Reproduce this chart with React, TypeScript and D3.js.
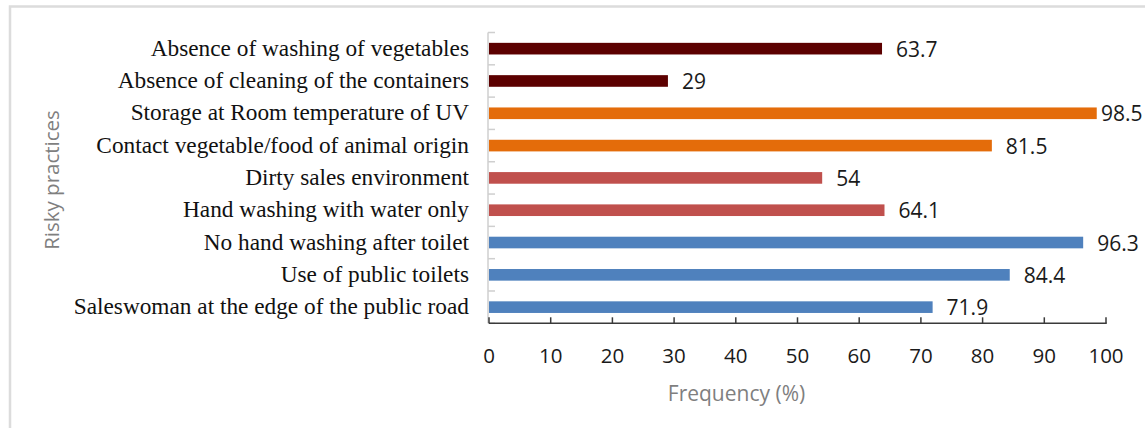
import React from "react";
import * as d3 from "d3";

const categories = [
  "Absence of washing of vegetables",
  "Absence of cleaning of the containers",
  "Storage at Room temperature of UV",
  "Contact vegetable/food of animal origin",
  "Dirty sales environment",
  "Hand washing with water only",
  "No hand washing after toilet",
  "Use of public toilets",
  "Saleswoman at the edge of the public road",
];
const values = [63.7, 29, 98.5, 81.5, 54, 64.1, 96.3, 84.4, 71.9];
const groups = ["veg", "veg", "storage", "storage", "env", "env", "hyg", "hyg", "hyg"];
const groupNames = ["veg", "storage", "env", "hyg"];
const groupColors = ["#5c0000", "#e46c0a", "#c0504d", "#4f81bd"];
const xTicks = [0, 10, 20, 30, 40, 50, 60, 70, 80, 90, 100];
const xTitle = "Frequency (%)";
const yTitle = "Risky practices";

const W = 1145;
const H = 428;
const plot = { left: 489, right: 1106, top: 32.5, bottom: 323.3 };

export default function App() {
  const x = d3.scaleLinear().domain([0, 100]).range([plot.left, plot.right]);
  const y = d3.scaleBand<string>().domain(categories).range([plot.top, plot.bottom]).paddingInner(0.64).paddingOuter(0.32);
  const color = d3.scaleOrdinal<string, string>().domain(groupNames).range(groupColors);
  const bw = y.bandwidth();
  const boundaries = d3.range(categories.length + 1).map((i) => plot.top + i * ((plot.bottom - plot.top) / categories.length));

  return (
    <svg width={W} height={H} style={{ position: "absolute", left: 0, top: 0, background: "#fff" }}>
      <rect x={10} y={6.5} width={W + 20} height={H + 20} fill="#fff" stroke="#dcdcdc" strokeWidth={2.5} />
      {/* y axis */}
      <line x1={plot.left - 1} x2={plot.left - 1} y1={plot.top} y2={plot.bottom} stroke="#cfcfcf" strokeWidth={1.5} />
      {boundaries.map((b, i) => (
        <line key={i} x1={plot.left - 1} x2={plot.left + 6} y1={b} y2={b} stroke="#cfcfcf" strokeWidth={1.5} />
      ))}
      {/* bars */}
      {categories.map((c, i) => (
        <rect key={c} x={x(0)} y={y(c)!} width={x(values[i]) - x(0)} height={bw} fill={color(groups[i])} />
      ))}
      {/* x axis */}
      <line x1={plot.left} x2={plot.right + 0.75} y1={plot.bottom} y2={plot.bottom} stroke="#3a3a3a" strokeWidth={1.5} />
      {xTicks.map((t) => (
        <g key={t}>
          <line x1={x(t)} x2={x(t)} y1={plot.bottom} y2={plot.bottom - 6} stroke="#3a3a3a" strokeWidth={1.5} />
          <text x={x(t)} y={363} textAnchor="middle" fontFamily="'Open Sans', sans-serif" fontSize={20.5} fill="#1a1a1a">
            {t}
          </text>
        </g>
      ))}
      {/* category labels */}
      {categories.map((c) => (
        <text key={c} x={469} y={y(c)! + bw / 2 + 7} textAnchor="end" fontFamily="'Liberation Serif', 'Times New Roman', serif" fontSize={23.3} fill="#111">
          {c}
        </text>
      ))}
      {/* value labels */}
      {categories.map((c, i) => (
        <text key={c} x={Math.min(x(values[i]) + 14, plot.right - 5)} y={y(c)! + bw / 2 + 8} fontFamily="'Open Sans', sans-serif" fontSize={21} fill="#1a1a1a">
          {values[i]}
        </text>
      ))}
      {/* titles */}
      <text x={(plot.left + plot.right) / 2 - 61} y={401} textAnchor="middle" fontFamily="'Open Sans', sans-serif" fontSize={21} fill="#7f7f7f">
        {xTitle}
      </text>
      <text transform="translate(59,180) rotate(-90)" textAnchor="middle" fontFamily="'Open Sans', sans-serif" fontSize={20.5} fill="#7f7f7f">
        {yTitle}
      </text>
    </svg>
  );
}
